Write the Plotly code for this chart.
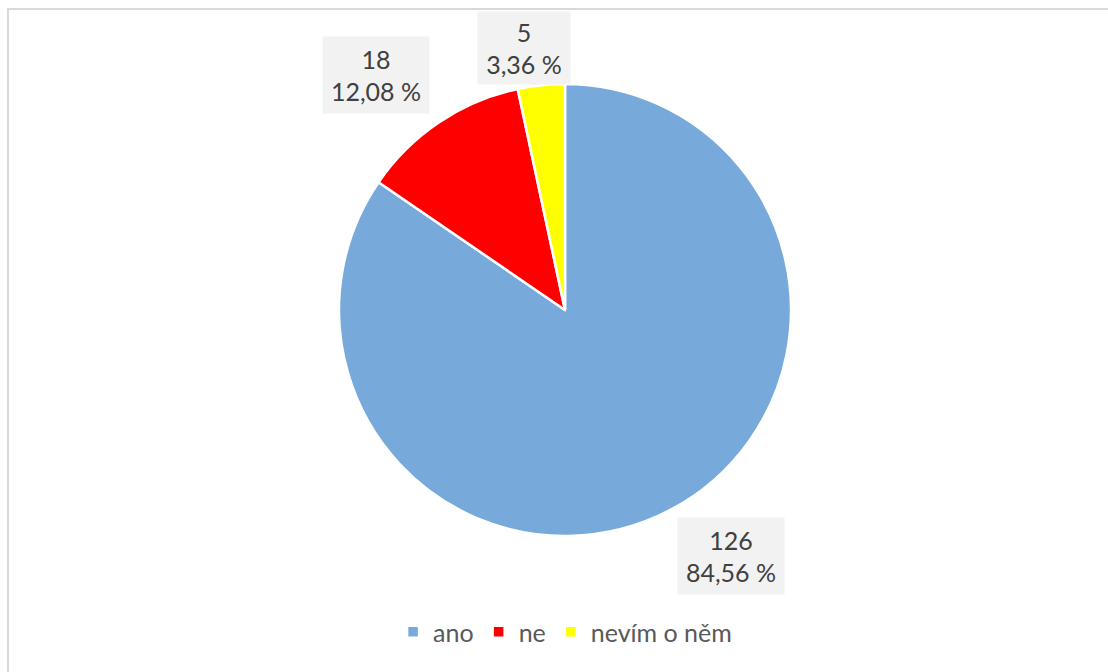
import plotly.graph_objects as go

# Survey answers and their counts
categories = ["ano", "ne", "nevím o něm"]
counts = [126, 18, 5]
colors = ["#77aadb", "#ff0000", "#ffff00"]

# Centre of each data label box (paper coordinates) and its size in px
label_x = [0.6597, 0.3394, 0.4729]
label_y = [0.1726, 0.8884, 0.9286]
label_w = [92, 92, 78]
label_h = [62, 62, 58]

total = sum(counts)
W, H = 1108, 672

fig = go.Figure(
    go.Pie(
        labels=categories,
        values=counts,
        sort=False,
        direction="clockwise",
        rotation=0,
        marker=dict(colors=colors, line=dict(color="white", width=2.5)),
        textinfo="none",
        hoverinfo="label+value+percent",
        domain=dict(x=[339 / W, 791 / W], y=[1 - 536 / H, 1 - 84 / H]),
    )
)

annotations = []
for v, x, y, w, h in zip(counts, label_x, label_y, label_w, label_h):
    pct = f"{100 * v / total:.2f}".replace(".", ",")
    annotations.append(
        dict(
            x=x, y=y, xref="paper", yref="paper",
            xanchor="center", yanchor="middle",
            text=f"{v}<br>{pct} %",
            showarrow=False,
            align="center",
            valign="middle",
            width=w, height=h,
            bgcolor="#f2f2f2",
            borderpad=7,
            font=dict(family="Lato", size=25, color="#404040"),
        )
    )

fig.update_layout(
    width=W,
    height=H,
    margin=dict(l=0, r=0, t=0, b=0),
    paper_bgcolor="white",
    plot_bgcolor="white",
    showlegend=True,
    legend=dict(
        orientation="h",
        x=0.51, xanchor="center",
        y=1 - 632 / H, yanchor="middle",
        font=dict(family="Lato", size=25, color="#595959"),
        itemclick=False,
        traceorder="normal",
    ),
    annotations=annotations,
    shapes=[
        dict(
            type="rect", xref="paper", yref="paper",
            x0=8 / W, x1=1.05, y0=-0.05, y1=1 - 9 / H,
            line=dict(color="#d9d9d9", width=2),
            fillcolor="rgba(0,0,0,0)",
            layer="below",
        )
    ],
)

fig.write_html("out.html")
